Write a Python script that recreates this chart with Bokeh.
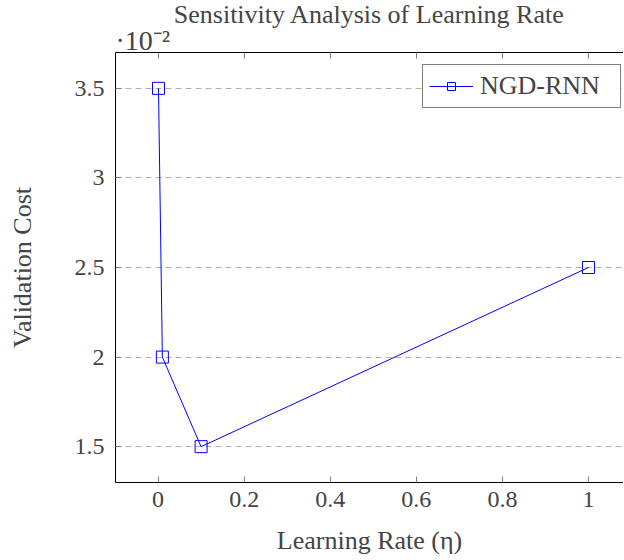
from bokeh.plotting import figure
from bokeh.models import FixedTicker, LinearAxis, Legend, LegendItem, Range1d, Title
from bokeh.embed import file_html
from bokeh.resources import INLINE

learning_rate = [0.001, 0.01, 0.1, 1.0]
validation_cost = [0.035, 0.020, 0.015, 0.025]
series_name = "NGD-RNN"
x_ticks = [0, 0.2, 0.4, 0.6, 0.8, 1.0]
x_tick_labels = ["0", "0.2", "0.4", "0.6", "0.8", "1"]
y_ticks = [0.015, 0.020, 0.025, 0.030, 0.035]
y_tick_labels = ["1.5", "2", "2.5", "3", "3.5"]

FONT = "Liberation Serif"
TICK_FS = "24px"
TEXT_FS = "26px"
BLUE = "#0000ff"

p = figure(
    frame_width=508, frame_height=430,
    x_range=Range1d(-0.0989, 1.0814), y_range=Range1d(0.013, 0.037),
    output_backend="svg", toolbar_location=None,
    min_border_left=115, min_border_right=0, min_border_top=52, min_border_bottom=76,
)
p.outline_line_color = None
p.background_fill_color = "white"
p.border_fill_color = "white"

p.xgrid.visible = False
p.ygrid.ticker = FixedTicker(ticks=y_ticks)
p.ygrid.grid_line_color = "#b0b0b0"
p.ygrid.grid_line_dash = "6 4"
p.ygrid.grid_line_width = 1

for ax in (p.xaxis[0], p.yaxis[0]):
    ax.axis_line_color = "black"
    ax.major_tick_line_color = "#808080"
    ax.major_tick_in = 6
    ax.major_tick_out = 0
    ax.minor_tick_line_color = None
    ax.major_label_text_font = FONT
    ax.major_label_text_font_size = TICK_FS
    ax.axis_label_text_font = FONT
    ax.axis_label_text_font_size = TEXT_FS
    ax.axis_label_text_font_style = "normal"

p.xaxis[0].ticker = FixedTicker(ticks=x_ticks)
p.xaxis[0].major_label_overrides = {t: l for t, l in zip(x_ticks, x_tick_labels)}
p.xaxis[0].axis_label = "Learning Rate (η)"
p.xaxis[0].major_label_standoff = 9
p.xaxis[0].axis_label_standoff = 16

p.yaxis[0].ticker = FixedTicker(ticks=y_ticks)
p.yaxis[0].major_label_overrides = {t: l for t, l in zip(y_ticks, y_tick_labels)}
p.yaxis[0].axis_label = "Validation Cost"
p.yaxis[0].major_label_standoff = 11
p.yaxis[0].axis_label_standoff = 35

top = LinearAxis(ticker=FixedTicker(ticks=x_ticks),
                 major_label_overrides={t: "" for t in x_ticks},
                 major_label_standoff=0,
                 major_tick_in=6, major_tick_out=0, minor_tick_line_color=None,
                 axis_line_color="black", major_tick_line_color="#808080")
p.add_layout(top, "above")

exp_title = Title(text="·10⁻²", align="left", text_font=FONT, text_font_size="28px",
                  text_font_style="normal", standoff=-6)
p.add_layout(exp_title, "above")

main_title = Title(text="Sensitivity Analysis of Learning Rate", align="center",
                   text_font=FONT, text_font_size=TEXT_FS, text_font_style="normal",
                   standoff=-6, offset=6)
p.add_layout(main_title, "above")

r = p.line(learning_rate, validation_cost, line_color=BLUE, line_width=1)
m = p.scatter(learning_rate, validation_cost, marker="square", size=12,
              line_color=BLUE, fill_color=None, line_width=1)

legend = Legend(items=[LegendItem(label=series_name, renderers=[r, m])],
                location=(307, 374), border_line_color="black", border_line_width=1,
                label_text_font=FONT, label_text_font_size=TEXT_FS, glyph_width=44,
                label_standoff=7, label_width=134, padding=6, spacing=0,
                background_fill_alpha=1)
p.add_layout(legend, "center")

open("out.html", "w").write(file_html(p, INLINE))
